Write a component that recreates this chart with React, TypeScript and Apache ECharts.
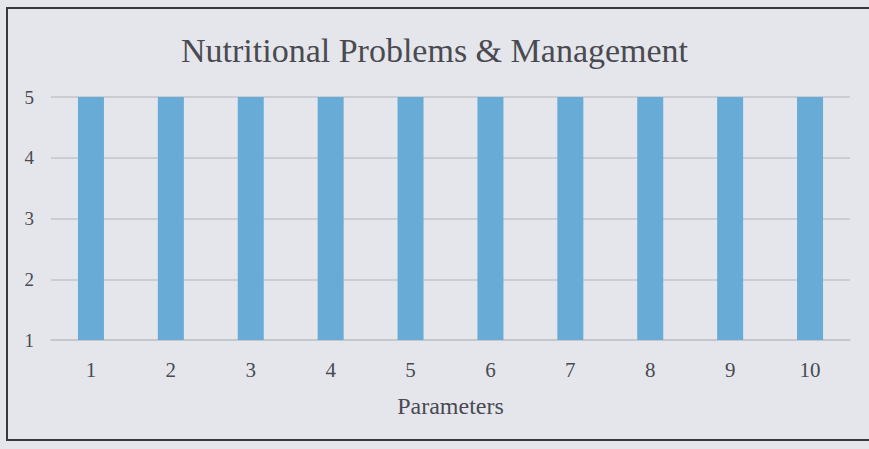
import React, { useEffect, useRef } from "react";
import * as echarts from "echarts";

const categories = ["1", "2", "3", "4", "5", "6", "7", "8", "9", "10"];
const values = [5, 5, 5, 5, 5, 5, 5, 5, 5, 5];
const titleText = "Nutritional Problems & Management";
const xAxisName = "Parameters";

export default function App() {
  const ref = useRef<HTMLDivElement>(null);
  useEffect(() => {
    document.body.style.margin = "0";
    const chart = echarts.init(ref.current!, null, { renderer: "svg" });
    const font = "'Liberation Serif', 'Times New Roman', serif";
    chart.setOption({
      animation: false,
      backgroundColor: "#e4e6ec",
      title: {
        text: titleText,
        left: "center",
        top: 28,
        textStyle: { fontFamily: font, fontSize: 34, fontWeight: "normal", color: "#4a4a50" },
      },
      graphic: [
        {
          type: "rect",
          shape: { x: 7, y: 8, width: 900, height: 432 },
          style: { fill: "none", stroke: "#3a3a3e", lineWidth: 2 },
          silent: true,
        },
      ],
      grid: { left: 51, right: 19, top: 97, bottom: 109 },
      xAxis: {
        type: "category",
        data: categories,
        name: xAxisName,
        nameLocation: "middle",
        nameGap: 54,
        nameTextStyle: { fontFamily: font, fontSize: 24, color: "#4a4a50" },
        axisLine: { lineStyle: { color: "#c4c5cb", width: 1.5 } },
        axisTick: { show: false },
        axisLabel: { fontFamily: font, fontSize: 21, color: "#4a4a50", margin: 19 },
      },
      yAxis: {
        type: "value",
        min: 1,
        max: 5,
        interval: 1,
        axisLine: { show: false },
        axisTick: { show: false },
        splitLine: { lineStyle: { color: "#c4c5cb", width: 1.5 } },
        axisLabel: { fontFamily: font, fontSize: 19, color: "#4a4a50", margin: 17 },
      },
      series: [
        {
          type: "bar",
          data: values,
          barWidth: 26,
          itemStyle: { color: "#67abd6" },
        },
      ],
    });
    return () => chart.dispose();
  }, []);
  return <div ref={ref} style={{ width: 869, height: 449 }} />;
}
